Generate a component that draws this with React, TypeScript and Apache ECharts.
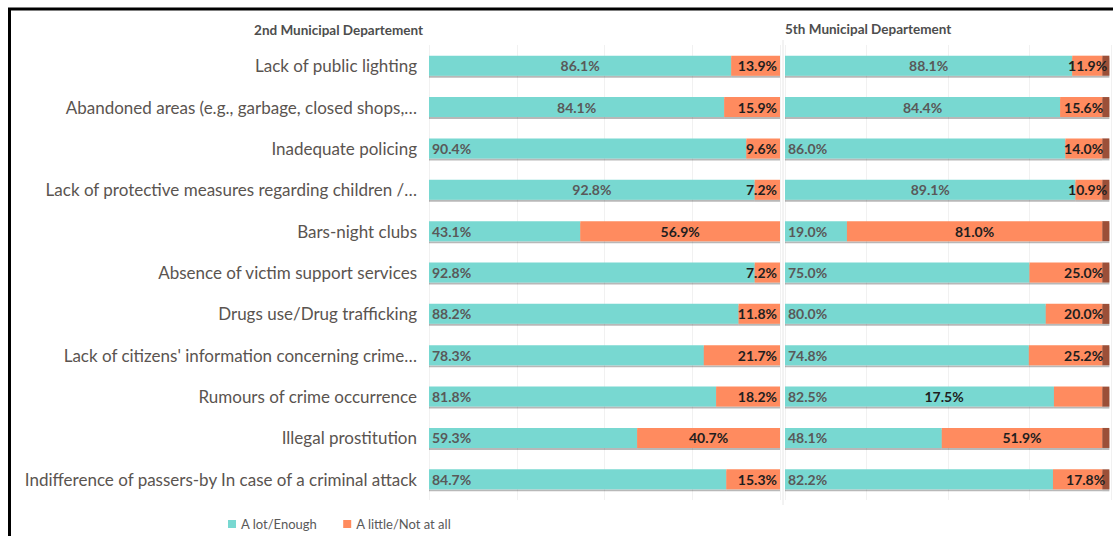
import React, { useEffect, useRef } from "react";
import * as echarts from "echarts";

const categories = [
  "Lack of public lighting",
  "Abandoned areas (e.g., garbage, closed shops,…",
  "Inadequate policing",
  "Lack of protective measures regarding children /…",
  "Bars-night clubs",
  "Absence of victim support services",
  "Drugs use/Drug trafficking",
  "Lack of citizens' information concerning crime…",
  "Rumours of crime occurrence",
  "Illegal prostitution",
  "Indifference of passers-by In case of a criminal attack",
];

const seriesNames = ["A lot/Enough", "A little/Not at all"];
const panelTitles = ["2nd Municipal Departement", "5th Municipal Departement"];

// 2nd Municipal Departement
const secondLot = [86.1, 84.1, 90.4, 92.8, 43.1, 92.8, 88.2, 78.3, 81.8, 59.3, 84.7];
const secondLittle = [13.9, 15.9, 9.6, 7.2, 56.9, 7.2, 11.8, 21.7, 18.2, 40.7, 15.3];

// 5th Municipal Departement
const fifthLot = [88.1, 84.4, 86.0, 89.1, 19.0, 75.0, 80.0, 74.8, 82.5, 48.1, 82.2];
const fifthLittle = [11.9, 15.6, 14.0, 10.9, 81.0, 25.0, 20.0, 25.2, 17.5, 51.9, 17.8];
// drawn widths of the orange and brown segments as they appear in the picture
const fifthLittleBar = [9.2, 12.9, 11.3, 8.2, 78.3, 22.3, 17.3, 22.5, 14.8, 49.2, 15.1];
const fifthOther = [2.2, 2.2, 2.2, 2.2, 2.2, 2.2, 2.2, 2.2, 2.2, 2.2, 2.2];

// label placement (styling)
const secondLotPos = ["inside", "inside", "insideLeft", "inside", "insideLeft", "insideLeft", "insideLeft", "insideLeft", "insideLeft", "insideLeft", "insideLeft"];
const secondLittlePos = ["insideRight", "insideRight", "insideRight", "insideRight", "inside", "insideRight", "insideRight", "insideRight", "insideRight", "inside", "insideRight"];
const fifthLotPos = ["inside", "inside", "insideLeft", "inside", "insideLeft", "insideLeft", "insideLeft", "insideLeft", "insideLeft", "insideLeft", "insideLeft"];
const fifthLittlePos = ["insideRight", "insideRight", "insideRight", "insideRight", "inside", "insideRight", "insideRight", "insideRight", "inside", "inside", "insideRight"];
const fifthLittleOffset = [[8, 0], [4, 0], [4, 0], [8, 0], [0, 0], [4, 0], [4, 0], [4, 0], [-134, 0], [0, 0], [6, 0]];

const TEAL = "#78D8D1";
const ORANGE = "#FF8B5E";
const BROWN = "#9B4F37";
const FONT = "Lato";

export default function App() {
  const ref = useRef<HTMLDivElement>(null);

  useEffect(() => {
    document.body.style.margin = "0";
    if (!ref.current) return;
    const chart = echarts.init(ref.current, undefined, { renderer: "svg" });

    const barBase = {
      type: "bar",
      barWidth: 20,
    };
    const shadow = {
      shadowColor: "rgba(0,0,0,0.28)",
      shadowOffsetY: 2,
      shadowBlur: 1,
    };
    const tealLabel = {
      show: true,
      color: "#595959",
      fontFamily: FONT,
      fontSize: 14,
      fontWeight: "bold",
      distance: 3,
      formatter: (p: any) => p.value.toFixed(1) + "%",
    };
    const orangeLabel = {
      show: true,
      color: "#1e1e1e",
      fontFamily: FONT,
      fontSize: 14,
      fontWeight: "bold",
      distance: 3,
    };

    const makeY = (gi: number, show: boolean) => ({
      type: "category",
      gridIndex: gi,
      data: categories,
      inverse: true,
      axisLine: { show: false },
      axisTick: { show: false },
      axisLabel: {
        show,
        color: "#5a5450",
        fontFamily: FONT,
        fontSize: 17,
        margin: 12,
      },
    });
    const makeX = (gi: number) => ({
      type: "value",
      gridIndex: gi,
      min: 0,
      max: 100,
      interval: 25,
      axisLine: { show: false },
      axisTick: { show: false },
      axisLabel: { show: false },
      splitLine: { show: true, lineStyle: { color: "#f1f1f1", width: 1 } },
    });

    chart.setOption({
      animation: false,
      backgroundColor: "#ffffff",
      textStyle: { fontFamily: FONT },
      grid: [
        { left: 429, width: 351, top: 45, height: 455 },
        { left: 785, width: 326, top: 45, height: 455 },
      ],
      xAxis: [makeX(0), makeX(1)],
      yAxis: [makeY(0, true), makeY(1, false)],
      legend: {
        data: seriesNames,
        left: 228,
        top: 516,
        padding: 0,
        itemWidth: 8,
        itemHeight: 8,
        itemGap: 26,
        icon: "rect",
        textStyle: { color: "#595959", fontFamily: FONT, fontSize: 13, lineHeight: 16 },
      },
      series: [
        {
          ...barBase,
          name: seriesNames[0],
          stack: "a",
          xAxisIndex: 0,
          yAxisIndex: 0,
          itemStyle: { color: TEAL, ...shadow },
          data: secondLot.map((v, i) => ({ value: v, label: { ...tealLabel, position: secondLotPos[i] } })),
        },
        {
          ...barBase,
          name: seriesNames[1],
          stack: "a",
          xAxisIndex: 0,
          yAxisIndex: 0,
          itemStyle: { color: ORANGE, ...shadow },
          data: secondLittle.map((v, i) => ({
            value: v,
            label: { ...orangeLabel, position: secondLittlePos[i], formatter: () => secondLittle[i].toFixed(1) + "%" },
          })),
        },
        {
          ...barBase,
          name: seriesNames[0],
          stack: "b",
          xAxisIndex: 1,
          yAxisIndex: 1,
          itemStyle: { color: TEAL, ...shadow },
          data: fifthLot.map((v, i) => ({ value: v, label: { ...tealLabel, position: fifthLotPos[i] } })),
        },
        {
          ...barBase,
          name: seriesNames[1],
          stack: "b",
          xAxisIndex: 1,
          yAxisIndex: 1,
          itemStyle: { color: ORANGE, ...shadow },
          z: 3,
          data: fifthLittleBar.map((v, i) => ({
            value: v,
            label: {
              ...orangeLabel,
              position: fifthLittlePos[i],
              offset: fifthLittleOffset[i],
              formatter: () => fifthLittle[i].toFixed(1) + "%",
            },
          })),
        },
        {
          ...barBase,
          name: "other",
          stack: "b",
          xAxisIndex: 1,
          yAxisIndex: 1,
          z: 1,
          itemStyle: { color: BROWN, ...shadow },
          data: fifthOther,
        },
      ],
      graphic: [
        {
          type: "line",
          shape: { x1: 8, y1: 9, x2: 1113, y2: 9 },
          style: { stroke: "#000", lineWidth: 3 },
        },
        {
          type: "line",
          shape: { x1: 9.5, y1: 8, x2: 9.5, y2: 536 },
          style: { stroke: "#000", lineWidth: 3 },
        },
        {
          type: "line",
          shape: { x1: 783, y1: 40, x2: 783, y2: 505 },
          style: { stroke: "#e6e6e6", lineWidth: 1 },
        },
        {
          type: "text",
          x: 423,
          y: 30,
          style: {
            text: panelTitles[0],
            align: "right",
            verticalAlign: "middle",
            fill: "#4d4d4d",
            font: "bold 13.5px Lato",
          },
        },
        {
          type: "text",
          x: 785,
          y: 29,
          style: {
            text: panelTitles[1],
            align: "left",
            verticalAlign: "middle",
            fill: "#4d4d4d",
            font: "bold 13.5px Lato",
          },
        },
      ],
    });

    return () => chart.dispose();
  }, []);

  return <div ref={ref} style={{ width: 1113, height: 536 }} />;
}
